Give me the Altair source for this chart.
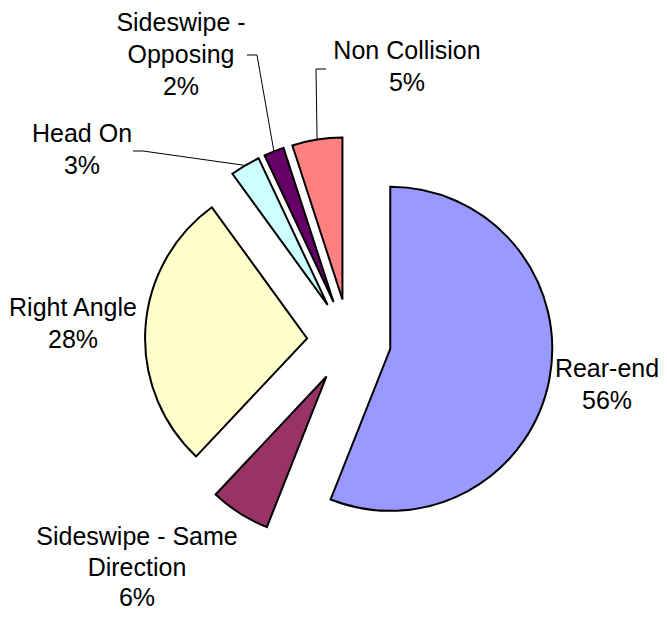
import math
import altair as alt
import numpy as np
import pandas as pd

# ---------------- data ----------------
categories = ["Rear-end", "Sideswipe - Same Direction", "Right Angle",
              "Head On", "Sideswipe - Opposing", "Non Collision"]
shares = [56, 6, 28, 3, 2, 5]
colors = ["#9999FF", "#993366", "#FFFFCC", "#CCFFFF", "#660066", "#FF8080"]
label_lines = [["Rear-end"], ["Sideswipe - Same", "Direction"], ["Right Angle"],
               ["Head On"], ["Sideswipe -", "Opposing"], ["Non Collision"]]

# ---------------- layout (image pixels) ----------------
R_PX = 162.0            # pie radius in px
CX_PX, CY_PX = 349.0, 341.0   # pie centre in page px
EXPLODE = 42.0 / R_PX   # explosion distance, in radii
W, H = 651, 604

def ux(px):
    return (px - CX_PX) / R_PX

def uy(py):
    return (CY_PX - py) / R_PX

# label anchor (centre x, first baseline y) in page pixels
label_pos = {
    "Rear-end": (607, 377),
    "Sideswipe - Same Direction": (137, 545),
    "Right Angle": (73, 316),
    "Head On": (82, 142),
    "Sideswipe - Opposing": (181, 31),
    "Non Collision": (407, 59),
}
# leader lines: (label end, knee) in page pixels
leader_pos = {
    "Head On": [(133, 151), (143, 151)],
    "Sideswipe - Opposing": [(247, 55), (257, 55)],
    "Non Collision": [(326, 69), (316, 69)],
}

# ---------------- derived table ----------------
df = pd.DataFrame({"category": categories, "share": shares})
df["end"] = df["share"].cumsum()
df["start"] = df["end"] - df["share"]
mid = (df["start"] + df["end"]) / 2 / 100 * 2 * math.pi
df["cx"] = EXPLODE * np.sin(mid)
df["cy"] = EXPLODE * np.cos(mid)
df["ex"] = df["cx"] + np.sin(mid)
df["ey"] = df["cy"] + np.cos(mid)
df["txt"] = [lines + [f"{s}%"] for lines, s in zip(label_lines, shares)]
df["lx"] = [ux(label_pos[c][0]) for c in categories]
df["ly"] = [uy(label_pos[c][1]) for c in categories]
df["tight"] = df["category"] == "Sideswipe - Same Direction"

rows = []
for c, pts in leader_pos.items():
    r = df[df["category"] == c].iloc[0]
    rows.append({"id": c, "ord": 0, "x": r["ex"], "y": r["ey"]})
    rows.append({"id": c, "ord": 1, "x": ux(pts[1][0]), "y": uy(pts[1][1])})
    rows.append({"id": c, "ord": 2, "x": ux(pts[0][0]), "y": uy(pts[0][1])})
leaders = pd.DataFrame(rows)

xs = alt.Scale(domain=[ux(8), ux(8 + W)], nice=False, zero=False)
ys = alt.Scale(domain=[uy(8 + H), uy(8)], nice=False, zero=False)

arcs = alt.Chart(df).mark_arc(
    outerRadius=R_PX, stroke="black", strokeWidth=2, strokeJoin="miter"
).encode(
    x=alt.X("cx:Q", scale=xs, axis=None),
    y=alt.Y("cy:Q", scale=ys, axis=None),
    theta=alt.Theta("start:Q", scale=alt.Scale(domain=[0, 100], range=[0, 2 * math.pi])),
    theta2="end:Q",
    color=alt.Color("category:N", scale=alt.Scale(domain=categories, range=colors), legend=None),
)

lines = alt.Chart(leaders).mark_line(color="black", strokeWidth=1).encode(
    x=alt.X("x:Q", scale=xs, axis=None),
    y=alt.Y("y:Q", scale=ys, axis=None),
    detail="id:N",
    order="ord:Q",
)

text_enc = dict(
    x=alt.X("lx:Q", scale=xs, axis=None),
    y=alt.Y("ly:Q", scale=ys, axis=None),
    text="txt",
)
text_style = dict(font="Liberation Sans", fontSize=25, align="center",
                  baseline="alphabetic", color="black")

labels = alt.Chart(df).transform_filter("!datum.tight").mark_text(
    lineHeight=32, **text_style).encode(**text_enc)
labels_tight = alt.Chart(df).transform_filter("datum.tight").mark_text(
    lineHeight=30.5, **text_style).encode(**text_enc)

chart = alt.layer(lines, arcs, labels, labels_tight).properties(
    width=W, height=H, padding=0,
    autosize=alt.AutoSizeParams(type="none"),
).configure_view(stroke=None)

chart.save("out.html", embed_options={"renderer": "svg", "actions": False})
